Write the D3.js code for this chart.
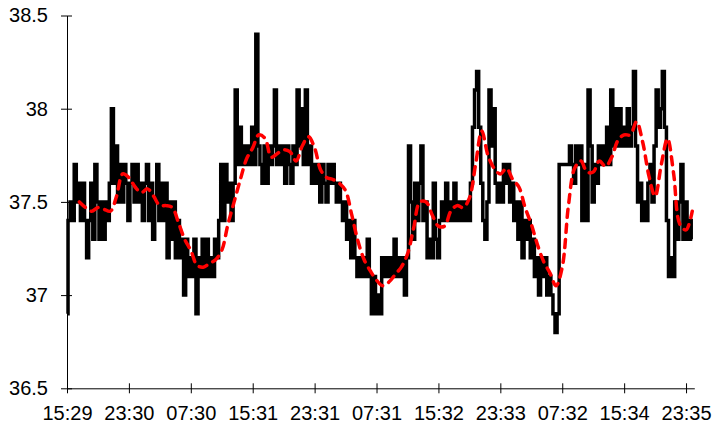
<!DOCTYPE html>
<meta charset="utf-8">
<style>
body { margin: 0; background: #fff; }
text { font-family: "Liberation Sans", Arial, sans-serif; }
</style>
<body>
<script src="https://cdnjs.cloudflare.com/ajax/libs/d3/7.8.5/d3.min.js"></script>
<script>

// tick labels along the category axis, one every 30 readings
var timeLabels = ["15:29", "23:30", "07:30", "15:31", "23:31", "07:31", "15:32", "23:33", "07:32", "15:34", "23:35"];
var labelEvery = 30;
var yTicks = [36.5, 37, 37.5, 38, 38.5];

// raw temperature readings (black)
var temps = [
  36.9,37.4,37.5,37.4,37.7,37.5,37.6,37.4,37.6,37.4,37.2,37.4,37.6,37.3,37.7,37.5,37.3,37.5,37.3,37.5,37.4,37.6,38.0,37.6,37.8,37.5,37.7,37.5,37.7,37.6,
  37.4,37.6,37.7,37.5,37.7,37.5,37.6,37.4,37.6,37.7,37.4,37.6,37.3,37.5,37.7,37.4,37.6,37.4,37.6,37.2,37.5,37.3,37.5,37.2,37.4,37.2,37.3,37.0,37.3,37.1,
  37.2,37.1,37.3,36.9,37.2,37.1,37.3,37.1,37.3,37.1,37.2,37.1,37.3,37.2,37.4,37.7,37.4,37.7,37.5,37.6,37.4,37.6,38.1,37.7,37.9,37.7,37.8,37.7,37.8,37.7,
  37.9,37.7,38.4,37.8,37.7,37.6,37.8,37.6,37.8,37.7,37.8,38.1,37.7,37.8,37.7,37.8,37.6,37.8,37.7,37.6,37.8,37.7,38.1,37.8,38.0,37.7,38.1,37.7,37.8,37.6,
  37.7,37.6,37.7,37.5,37.7,37.6,37.5,37.7,37.6,37.7,37.6,37.5,37.6,37.5,37.4,37.5,37.3,37.4,37.2,37.4,37.2,37.1,37.2,37.1,37.2,37.1,37.3,37.1,36.9,37.1,
  36.9,37.0,36.9,37.2,37.1,37.2,37.1,37.2,37.1,37.3,37.1,37.2,37.1,37.2,37.0,37.2,37.8,37.5,37.3,37.6,37.4,37.6,37.8,37.4,37.5,37.2,37.3,37.2,37.6,37.3,
  37.2,37.4,37.5,37.4,37.6,37.4,37.5,37.4,37.6,37.4,37.5,37.4,37.5,37.4,37.5,37.4,37.6,37.9,38.1,38.2,37.9,37.6,37.4,37.3,37.5,38.1,37.8,38.0,37.6,37.5,
  37.6,37.5,37.7,37.6,37.7,37.5,37.6,37.4,37.5,37.3,37.5,37.2,37.4,37.3,37.4,37.2,37.3,37.1,37.2,37.0,37.2,37.1,37.2,37.0,37.1,37.0,36.9,36.8,36.9,37.7,
  37.7,37.7,37.7,37.7,37.8,37.7,37.6,37.8,37.7,37.8,37.4,37.7,37.4,38.1,37.8,37.5,37.7,37.6,37.8,37.7,37.8,37.7,37.9,37.7,38.1,37.8,38.0,37.8,38.0,37.8,
  37.9,37.8,38.0,37.8,37.9,38.2,37.8,37.5,37.6,37.4,37.5,37.4,37.6,37.7,37.5,37.8,38.1,37.9,38.0,38.2,37.9,37.4,37.1,37.2,37.1,37.5,37.3,37.5,37.7,37.3,
  37.5,37.3,37.4,37.3
];

// smoothed trend (red dashed), one value every 3 readings from reading 6
var smoothStart = 6, smoothStep = 3;
var smooth = [
  37.50,37.47,37.45,37.47,37.46,37.45,37.53,37.65,37.63,37.58,
  37.55,37.57,37.53,37.48,37.48,37.47,37.39,37.30,37.24,37.16,
  37.15,37.17,37.19,37.24,37.38,37.50,37.62,37.73,37.79,37.86,
  37.84,37.74,37.76,37.78,37.77,37.72,37.80,37.85,37.79,37.67,
  37.63,37.62,37.60,37.56,37.43,37.29,37.19,37.13,37.08,37.05,
  37.07,37.11,37.15,37.22,37.36,37.50,37.50,37.43,37.37,37.37,
  37.45,37.48,37.47,37.52,37.70,37.88,37.75,37.68,37.65,37.68,
  37.62,37.58,37.47,37.38,37.27,37.18,37.12,37.05,37.15,37.48,
  37.68,37.72,37.66,37.66,37.72,37.69,37.74,37.83,37.86,37.86,
  37.93,37.82,37.64,37.53,37.70,37.84,37.65,37.38,37.35,37.45
];

var width = 713, height = 426;
var plotLeft = 67, plotRight = 694.3, plotTop = 15.5, plotBottom = 388.3;

var svg = d3.select("body").append("svg")
    .attr("width", width)
    .attr("height", height);

var x = d3.scaleLinear()
  .domain([0, temps.length])
  .range([plotLeft, plotRight]);

var y = d3.scaleLinear()
  .domain([36.5, 38.5])
  .range([plotBottom, plotTop]);

// readings are held until the next one, so draw as steps
var rawLine = d3.line()
  .x(function(d, i) { return x(i); })
  .y(function(d) { return y(d); })
  .curve(d3.curveStep);

svg.append("path")
  .datum(temps)
  .attr("d", rawLine)
  .attr("fill", "none")
  .attr("stroke", "#000")
  .attr("stroke-width", 3.5)
  .attr("stroke-linejoin", "miter");

var smoothLine = d3.line()
  .x(function(d, i) { return x(smoothStart + i * smoothStep); })
  .y(function(d) { return y(d); })
  .curve(d3.curveCatmullRom);

svg.append("path")
  .datum(smooth)
  .attr("d", smoothLine)
  .attr("fill", "none")
  .attr("stroke", "#ff0000")
  .attr("stroke-width", 3.5)
  .attr("stroke-dasharray", "8,7")
  .attr("stroke-linecap", "round");

// y axis
var yAxis = d3.axisLeft(y)
  .tickValues(yTicks)
  .tickFormat(d3.format("~g"))
  .tickSizeInner(6)
  .tickSizeOuter(0)
  .tickPadding(13);

var gy = svg.append("g")
  .attr("transform", "translate(" + plotLeft + ",0)")
  .call(yAxis);
gy.selectAll(".tick line").attr("x1", 5).attr("x2", -6);
gy.selectAll("text").style("font-size", "20px").attr("fill", "#000");
gy.select(".domain").attr("stroke", "#000");

// x axis
var xAxis = d3.axisBottom(x)
  .tickValues(d3.range(0, timeLabels.length).map(function(k) { return k * labelEvery; }))
  .tickFormat(function(d) { return timeLabels[d / labelEvery]; })
  .tickSizeInner(5)
  .tickSizeOuter(0)
  .tickPadding(13);

var gx = svg.append("g")
  .attr("transform", "translate(0," + plotBottom + ")")
  .call(xAxis);
gx.selectAll(".tick line").attr("y1", -5).attr("y2", 5);
gx.selectAll("text").style("font-size", "20px").attr("fill", "#000");
gx.select(".domain").attr("stroke", "#000");

</script>
</body>
